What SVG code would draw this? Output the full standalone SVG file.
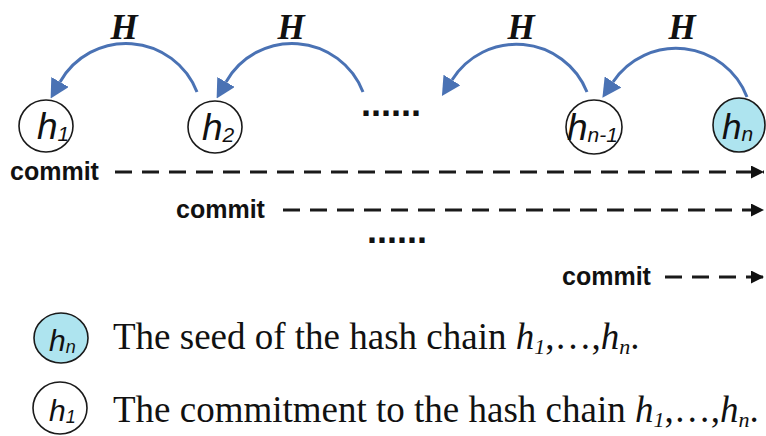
<svg xmlns="http://www.w3.org/2000/svg" width="766" height="436" viewBox="0 0 766 436">
  <style>
    .node { fill: #ffffff; stroke: #1a1a1a; stroke-width: 1.6; }
    .seed { fill: #aee4ef; stroke: #1a1a1a; stroke-width: 1.6; }
    .lbl { font-family: "Liberation Sans", Arial, sans-serif; font-style: italic; fill: #111; }
    .hash { fill: none; stroke: #4a72b4; stroke-width: 3; marker-end: url(#blueHead); }
    .hlabel { font-family: "Liberation Serif", "Times New Roman", serif; font-style: italic; font-weight: bold; font-size: 35px; fill: #111; text-anchor: middle; }
    .commit { font-family: "Liberation Sans", Arial, sans-serif; font-weight: bold; font-size: 25px; fill: #111; }
    .dash { fill: none; stroke: #1a1a1a; stroke-width: 3; stroke-dasharray: 17 10; marker-end: url(#blackHead); }
    .dots { font-family: "Liberation Sans", Arial, sans-serif; font-weight: bold; font-size: 36px; fill: #111; }
    .legend { font-family: "Liberation Serif", "Times New Roman", serif; font-size: 37px; fill: #111; }
  </style>
  <defs>
    <marker id="blueHead" markerUnits="userSpaceOnUse" viewBox="0 0 19 20" markerWidth="19" markerHeight="20" refX="0" refY="10" orient="auto">
      <path d="M0,0 L19,10 L0,20 z" fill="#4a72b4"/>
    </marker>
    <marker id="blackHead" markerUnits="userSpaceOnUse" viewBox="0 0 12 12" markerWidth="13" markerHeight="13" refX="12" refY="6" orient="auto">
      <path d="M0,0 L12,6 L0,12 z" fill="#111"/>
    </marker>
  </defs>

  <!-- hash function arcs and commit timelines -->
  <g id="connectors">
    <path class="hash" d="M197,92 A76,76 0 0 0 60,82"/>
    <path class="hash" d="M363,92 A76,76 0 0 0 226,82"/>
    <path class="hash" d="M587,92 A76,76 0 0 0 452,80"/>
    <path class="hash" d="M747,97 A76,76 0 0 0 613,82"/>
    <text class="hlabel" x="124" y="39">H</text>
    <text class="hlabel" x="291" y="39">H</text>
    <text class="hlabel" x="521" y="39">H</text>
    <text class="hlabel" x="682" y="39">H</text>

    <path class="dash" d="M115,172 H764"/>
    <path class="dash" d="M283,210 H764"/>
    <path class="dash" d="M665,277 H764"/>
  </g>

  <!-- chain values -->
  <g id="node-h1">
    <ellipse class="node" cx="46" cy="126" rx="27" ry="26"/>
    <text class="lbl" x="37" y="139" font-size="37">h<tspan font-size="21" dy="2">1</tspan></text>
  </g>
  <g id="node-h2">
    <ellipse class="node" cx="215" cy="127" rx="27" ry="26"/>
    <text class="lbl" x="202" y="140" font-size="37">h<tspan font-size="21" dy="2">2</tspan></text>
  </g>
  <g id="node-gap">
    <text class="dots" x="361" y="116">......</text>
  </g>
  <g id="node-hn-1">
    <ellipse class="node" cx="594" cy="127" rx="28" ry="27"/>
    <text class="lbl" x="567" y="140" font-size="37">h<tspan font-size="21" dy="2">n-1</tspan></text>
  </g>
  <g id="node-hn">
    <ellipse class="seed" cx="739" cy="125" rx="26" ry="27"/>
    <text class="lbl" x="722" y="139" font-size="35">h<tspan font-size="21" dy="2">n</tspan></text>
  </g>

  <!-- commitment rows -->
  <g id="commit-1">
    <text class="commit" x="10" y="180">commit</text>
  </g>
  <g id="commit-2">
    <text class="commit" x="176" y="218">commit</text>
  </g>
  <g id="commit-gap">
    <text class="dots" x="367" y="243">......</text>
  </g>
  <g id="commit-n">
    <text class="commit" x="562" y="285">commit</text>
  </g>

  <!-- legend -->
  <g id="legend-seed">
    <ellipse class="seed" cx="61" cy="338" rx="27" ry="25"/>
    <text class="lbl" x="49" y="351" font-size="30">h<tspan font-size="18" dy="2">n</tspan></text>
    <text class="legend" x="113" y="349">The seed of the hash chain <tspan font-style="italic">h</tspan><tspan font-style="italic" font-size="22" dy="5">1</tspan><tspan dy="-5">,…,</tspan><tspan font-style="italic">h</tspan><tspan font-style="italic" font-size="22" dy="5">n</tspan><tspan dy="-5">.</tspan></text>
  </g>
  <g id="legend-commitment">
    <ellipse class="node" cx="60" cy="408" rx="27" ry="26"/>
    <text class="lbl" x="49" y="421" font-size="30">h<tspan font-size="18" dy="2">1</tspan></text>
    <text class="legend" x="113" y="422">The commitment to the hash chain <tspan font-style="italic">h</tspan><tspan font-style="italic" font-size="22" dy="5">1</tspan><tspan dy="-5">,…,</tspan><tspan font-style="italic">h</tspan><tspan font-style="italic" font-size="22" dy="5">n</tspan><tspan dy="-5">.</tspan></text>
  </g>
</svg>
